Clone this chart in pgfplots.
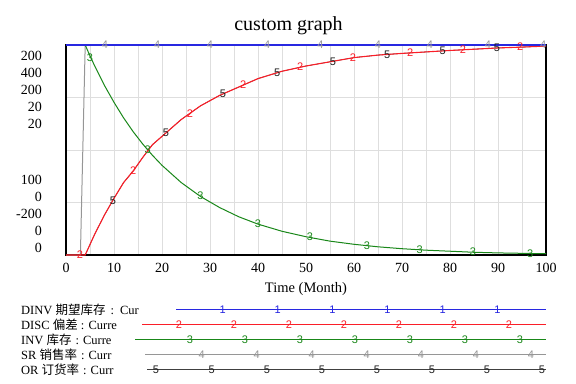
\documentclass[border=0pt]{standalone}
\usepackage{fontspec}
\setmainfont{Liberation Serif}
\setsansfont{Liberation Sans}
\newfontfamily\cjk{Noto Sans CJK SC}
\usepackage{pgfplots}
\pgfplotsset{compat=1.18}
\usetikzlibrary{plotmarks}
\definecolor{cblue}{RGB}{40,40,225}
\definecolor{cred}{RGB}{250,30,40}
\definecolor{cgreen}{RGB}{25,135,25}
\definecolor{cgray}{RGB}{150,150,150}
\definecolor{cgrid}{RGB}{222,222,222}
\definecolor{cblack}{RGB}{30,30,30}
\newcommand{\mk}{\sffamily\fontsize{11bp}{11bp}\selectfont}
\newcommand{\legfont}{\fontsize{12.5bp}{14bp}\selectfont}
\pgfplotsset{tm/.style={only marks, mark=text, text mark as node=true, text mark={#1}, text mark style={font=\mk, inner sep=0pt}}}
\begin{document}
\begin{tikzpicture}
\path[use as bounding box] (0,0) rectangle (576bp,-384bp);
\node[anchor=base, font=\fontsize{20bp}{24bp}\selectfont] at (288.5bp,-30.5bp) {custom graph};
\begin{axis}[
  at={(66bp,-255bp)}, anchor=south west, scale only axis,
  width=480bp, height=210bp,
  xmin=0, xmax=100, ymin=0, ymax=1,
  xtick={0,10,...,100}, minor xtick={5,15,...,95},
  ytick={0.25,0.5,0.75}, yticklabels={},
  grid=both, grid style={cgrid, line width=0.7bp}, minor grid style={cgrid, line width=0.7bp},
  major tick length=0pt, minor tick length=0pt,
  axis line style={black, line width=2bp},
  xticklabel style={font=\fontsize{14bp}{14bp}\selectfont, inner sep=0pt, yshift=-8bp},
  /pgf/number format/assume math mode=true,
  clip=false,
]
% OR (black) - lies under DISC
\addplot[cblack, line width=0.5bp] coordinates {
(0,0)(4,0)(5,0.05)(6,0.1)(8,0.19)(10,0.27)(12,0.345)(14,0.40)(16,0.465)(18,0.525)(20,0.565)
(24,0.645)(28,0.71)(32,0.76)(36,0.80)(40,0.84)(45,0.875)(50,0.90)(55,0.92)(60,0.94)
(65,0.952)(70,0.96)(75,0.967)(80,0.974)(85,0.98)(90,0.986)(95,0.99)(100,0.995)};
% SR (gray)
\addplot[cgray, line width=1bp] coordinates {(0,0)(3,0)(4,1)(100,1)};
% INV (green)
\addplot[cgreen, line width=1bp] coordinates {
(0,1)(4,1)(5,0.948)(6,0.899)(8,0.808)(10,0.727)(12,0.653)(14,0.587)(16,0.528)(18,0.475)(20,0.427)
(24,0.345)(28,0.279)(32,0.226)(36,0.182)(40,0.147)(45,0.113)(50,0.087)(55,0.066)(60,0.051)
(65,0.039)(70,0.030)(75,0.023)(80,0.018)(85,0.013)(90,0.010)(95,0.008)(100,0.006)};
% DISC (red)
\addplot[cred, line width=1.1bp] coordinates {
(0,0)(4,0)(5,0.05)(6,0.1)(8,0.19)(10,0.27)(12,0.345)(14,0.40)(16,0.465)(18,0.525)(20,0.565)
(24,0.645)(28,0.71)(32,0.76)(36,0.80)(40,0.84)(45,0.875)(50,0.90)(55,0.92)(60,0.94)
(65,0.952)(70,0.96)(75,0.967)(80,0.974)(85,0.98)(90,0.986)(95,0.99)(100,0.995)};
% DINV (blue)
\addplot[cblue, line width=2.5bp] coordinates {(0,1)(100,1)};
% markers
\addplot[cgray, tm=4] coordinates {
(8.1,1)(19,1)(30,1)(41.9,1)(53,1)(65,1)(75.8,1)(87.9,1)(99.4,1)};
\addplot[cblack, tm=5] coordinates {
(9.8,0.26)(20.8,0.58)(32.7,0.77)(44,0.87)(55.6,0.922)(66.9,0.955)(78.5,0.972)(89.8,0.986)};
\addplot[cgreen, tm=3] coordinates {
(5,0.94)(17,0.5)(28,0.28)(40,0.15)(50.8,0.085)(62.7,0.046)(73.7,0.025)(84.8,0.014)(96.7,0.008)};
\addplot[cred, tm=2] coordinates {
(2.9,0)(14,0.40)(25.8,0.675)(36.9,0.81)(48.8,0.895)(59.8,0.94)(71.7,0.962)(82.7,0.977)(94.6,0.99)};
\node[anchor=north east, align=right, inner sep=0pt, font=\fontsize{14bp}{17bp}\selectfont]
  at (rel axis cs:0,1) [xshift=-24bp, yshift=-5.5bp] {200\\400\\200\\20\\20};
\node[anchor=south east, align=right, inner sep=0pt, font=\fontsize{14bp}{17bp}\selectfont]
  at (rel axis cs:0,0) [xshift=-24bp, yshift=2.5bp] {100\\0\\-200\\0\\0};
\node[anchor=base, font=\fontsize{14.5bp}{17bp}\selectfont] at (rel axis cs:0.5,0) [yshift=-37bp] {Time (Month)};
\end{axis}
% legend
\begin{axis}[
  at={(0bp,0bp)}, anchor=north west, scale only axis,
  width=576bp, height=384bp,
  xmin=0, xmax=576, ymin=0, ymax=384, y dir=reverse,
  hide axis, clip=false,
]
\addplot[cblue, line width=1bp] coordinates {(176,309.3)(546,309.3)};
\addplot[cred, line width=1bp] coordinates {(142,324.3)(546,324.3)};
\addplot[cgreen, line width=1bp] coordinates {(135,339.3)(546,339.3)};
\addplot[cgray, line width=1bp] coordinates {(145,354.3)(546,354.3)};
\addplot[cblack!85, line width=1.4bp] coordinates {(147,369.3)(546,369.3)};
\addplot[cblue, tm=1] coordinates {
(222.7,309.3)(277.7,309.3)(332.5,309.3)(387.5,309.3)(442.7,309.3)(497.5,309.3)};
\addplot[cred, tm=2] coordinates {
(179,324.3)(234,324.3)(289,324.3)(344,324.3)(399,324.3)(454,324.3)(509,324.3)};
\addplot[cgreen, tm=3] coordinates {
(190,339.3)(245,339.3)(300,339.3)(355,339.3)(410,339.3)(465,339.3)(520,339.3)};
\addplot[cgray, tm=4] coordinates {
(201.7,354.3)(256.7,354.3)(311.7,354.3)(366.7,354.3)(421,354.3)(476,354.3)(531,354.3)};
\addplot[cblack, tm=5] coordinates {
(156,369.3)(211.7,369.3)(267,369.3)(322,369.3)(377,369.3)(432,369.3)(487,369.3)(542,369.3)};
\node[anchor=base west, inner sep=0pt, font=\legfont] at (axis cs:21,314) {DINV {\cjk 期望库存}\hspace{5bp}:\hspace{6bp}Cur};
\node[anchor=base west, inner sep=0pt, font=\legfont] at (axis cs:21,329) {DISC {\cjk 偏差} : Curre};
\node[anchor=base west, inner sep=0pt, font=\legfont] at (axis cs:21,344) {INV {\cjk 库存}\hspace{4bp}:\hspace{4bp}Curre};
\node[anchor=base west, inner sep=0pt, font=\legfont] at (axis cs:21,359) {SR {\cjk 销售率}\hspace{4bp}:\hspace{4bp}Curr};
\node[anchor=base west, inner sep=0pt, font=\legfont] at (axis cs:21,374) {OR {\cjk 订货率}\hspace{4bp}:\hspace{4bp}Curr};
\end{axis}
\end{tikzpicture}
\end{document}
